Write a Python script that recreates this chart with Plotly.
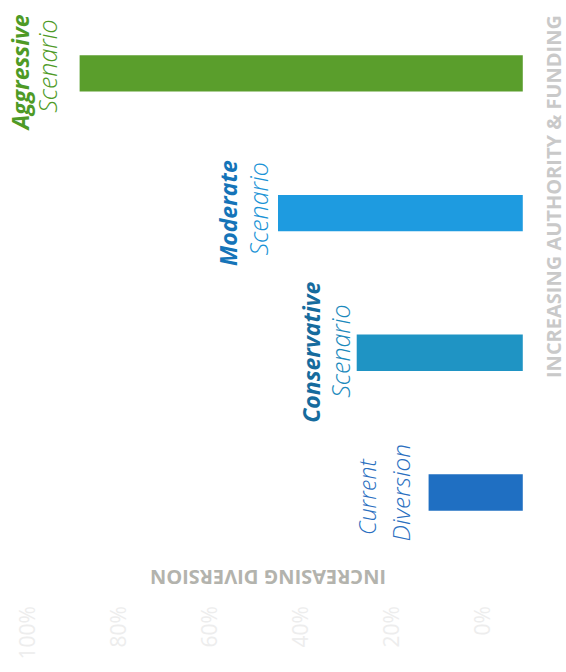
import plotly.graph_objects as go

# Scenario data (bottom to top on the chart)
scenarios = ["Current Diversion", "Conservative Scenario", "Moderate Scenario", "Aggressive Scenario"]
diversion = [20.7, 36.5, 53.8, 97.4]
bar_colors = ["#1f6fc2", "#1f94c4", "#1e9be0", "#5a9e2c"]

# Label lines per scenario: (first line, second line)
label_top = ["Current", "Conservative", "Moderate", "Aggressive"]
label_bottom = ["Diversion", "Scenario", "Scenario", "Scenario"]
top_colors = ["#2a6fbf", "#166b9d", "#1574b8", "#4e9a26"]
bottom_colors = ["#2a6fbf", "#1b89bc", "#1a93d6", "#4e9a26"]
top_bold = [False, True, True, True]

# Percentage scale labels
tick_vals = [0, 20, 40, 60, 80, 100]
tick_text = ["0%", "20%", "40%", "60%", "80%", "100%"]

W, H = 566, 672

fig = go.Figure()
fig.add_trace(go.Bar(
    y=scenarios,
    x=diversion,
    orientation="h",
    width=0.26,
    marker=dict(color=bar_colors, line=dict(width=0)),
    hoverinfo="skip",
    showlegend=False,
))

# faint scale labels on an overlaid axis
fig.add_trace(go.Scatter(x=[0, 100], y=[scenarios[0], scenarios[0]], xaxis="x2",
                         mode="markers", marker=dict(opacity=0), showlegend=False,
                         hoverinfo="skip"))

def px_x(x):
    return x / W

annotations = []
# label column positions (pixels), vertical shifts and sizes
top_x = [367, 311, 228, 20]
bot_x = [400, 340, 258, 47]
top_shift = [-4.5, 0, 0, 0]
bot_shift = [0, 1, 3.5, 7.5]
top_size = [23, 23, 23, 23]
bot_size = [24.5, 25, 25, 25]
for i, cat in enumerate(scenarios):
    annotations.append(dict(
        x=px_x(top_x[i]), xref="paper", y=cat, yref="y", yshift=top_shift[i],
        text=("<b><i>%s</i></b>" if top_bold[i] else "<i>%s</i>") % label_top[i],
        textangle=-90, showarrow=False, xanchor="center", yanchor="middle",
        font=dict(family="Open Sans", size=top_size[i], color=top_colors[i],
                  weight=700 if top_bold[i] else 300),
    ))
    annotations.append(dict(
        x=px_x(bot_x[i]), xref="paper", y=cat, yref="y", yshift=bot_shift[i],
        text="<i>%s</i>" % label_bottom[i],
        textangle=-90, showarrow=False, xanchor="center", yanchor="middle",
        font=dict(family="Open Sans", size=bot_size[i], color=bottom_colors[i], weight=300),
    ))

annotations.append(dict(
    x=px_x(268), y=1 - 578 / H, xref="paper", yref="paper",
    xanchor="center", yanchor="middle",
    text="<b>INCREASING DIVERSION</b>", textangle=180, showarrow=False,
    font=dict(family="Open Sans", size=20, color="#b3b3ad"),
))
annotations.append(dict(
    x=px_x(554), y=1 - 197 / H, xref="paper", yref="paper",
    xanchor="center", yanchor="middle",
    text="<b>INCREASING AUTHORITY &amp; FUNDING</b>", textangle=-90, showarrow=False,
    font=dict(family="Open Sans", size=20, color="#c9c9c9"),
))

fig.update_layout(
    width=W, height=H,
    margin=dict(l=0, r=0, t=0, b=0),
    paper_bgcolor="white", plot_bgcolor="white",
    xaxis=dict(range=[114.9, -9.5], visible=False, domain=[0, 1]),
    xaxis2=dict(range=[106.2, -18.2], overlaying="x", anchor="free", position=1 - 601 / H,
                tickvals=tick_vals, ticktext=tick_text, tickangle=-90,
                tickfont=dict(family="Open Sans", size=21, color="#ededed"),
                showgrid=False, zeroline=False, showline=False, ticks=""),
    yaxis=dict(categoryorder="array", categoryarray=scenarios, range=[-1.285, 3.525],
               visible=False, domain=[0, 1]),
    annotations=annotations,
)

fig.write_html("out.html")
